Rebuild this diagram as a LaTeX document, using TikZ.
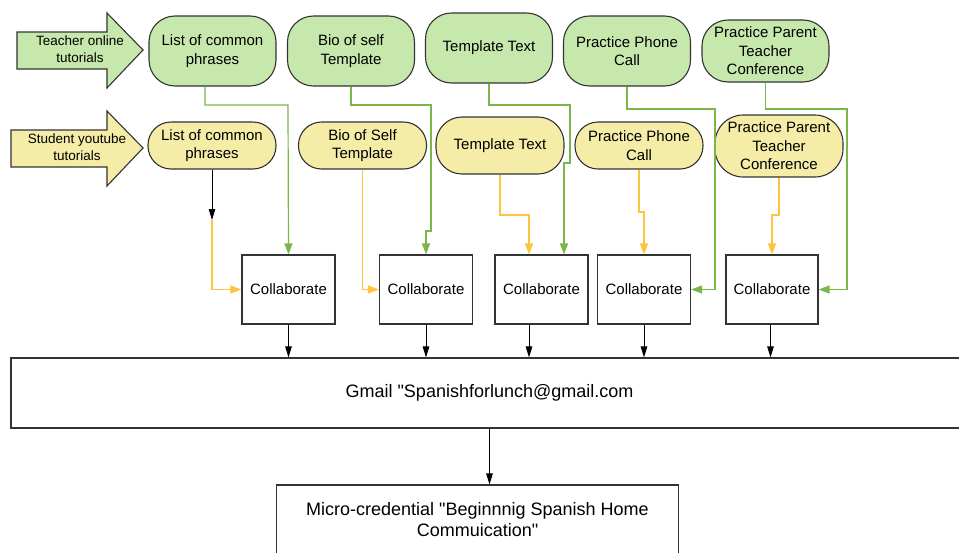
\documentclass[tikz,border=0pt]{standalone}
\usepackage{fontspec}
\setmainfont{Liberation Sans}[Ligatures=TeXOff]
\usetikzlibrary{arrows.meta}
\definecolor{gfill}{HTML}{C7E8AC}
\definecolor{yfill}{HTML}{F4ECA7}
\definecolor{gline}{HTML}{7AB648}
\definecolor{oline}{HTML}{FFC43D}
\definecolor{edge}{HTML}{333333}
\tikzset{
  greenbox/.style={draw=edge,fill=gfill,line width=1.1pt,rounded corners=26pt,minimum width=127pt,minimum height=70pt,align=center,font=\fontsize{15}{18.5}\selectfont},
  yellowbox/.style={draw=edge,fill=yfill,line width=1.1pt,rounded corners=23pt,minimum width=128pt,minimum height=47pt,align=center,font=\fontsize{15}{18.5}\selectfont},
  collab/.style={draw=edge,line width=1.1pt,minimum width=93pt,minimum height=69pt,font=\fontsize{15}{18}\selectfont},
  bigbox/.style={draw=edge,line width=1.1pt,minimum height=70pt,align=center,font=\fontsize{18}{21}\selectfont},
  arrowtext/.style={align=center,font=\fontsize{13.5}{17}\selectfont},
  gconn/.style={draw=gline,line width=1.2pt,-{Triangle[length=11pt,width=8pt]}},
  oconn/.style={draw=oline,line width=1.2pt,-{Triangle[length=11pt,width=8pt]}},
  bconn/.style={draw=black,line width=1pt,-{Triangle[length=11pt,width=6.5pt]}}
}
\begin{document}
\begin{tikzpicture}[x=1pt,y=-1pt]
    \useasboundingbox (0,0) rectangle (959,552);
    % big arrows on the left
    \draw[draw=edge,fill=gfill,line width=1.1pt] (17,32) -- (107,32) -- (107,13) -- (143,50) -- (107,88) -- (107,69) -- (17,69) -- cycle;
    \node[arrowtext] (teacher) at (80,49) {Teacher online\\tutorials};
    \draw[draw=edge,fill=yfill,line width=1.1pt] (11,130) -- (107,130) -- (107,111) -- (143,148) -- (107,186) -- (107,167) -- (11,167) -- cycle;
    \node[arrowtext] (student) at (77,147) {Student youtube\\tutorials};
    % teacher row
    \node[greenbox] (g1) at (212.5,51) {List of common\\phrases};
    \node[greenbox] (g2) at (351,51) {Bio of self\\Template};
    \node[greenbox] (g3) at (489,48) {Template Text};
    \node[greenbox] (g4) at (627,51) {Practice Phone\\Call};
    \node[greenbox,minimum height=62pt] (g5) at (765.5,51) {Practice Parent\\Teacher\\Conference};
    % student row
    \node[yellowbox] (y1) at (212,145.5) {List of common\\phrases};
    \node[yellowbox] (y2) at (362.5,145.5) {Bio of Self\\Template};
    \node[yellowbox,minimum height=57pt,rounded corners=26pt] (y3) at (500,145.5) {Template Text};
    \node[yellowbox] (y4) at (639,145.5) {Practice Phone\\Call};
    \node[yellowbox,minimum height=62pt,rounded corners=28pt] (y5) at (779,146) {Practice Parent\\Teacher\\Conference};
    % collaborate boxes
    \node[collab] (c1) at (288.5,289.5) {Collaborate};
    \node[collab] (c2) at (426,289.5) {Collaborate};
    \node[collab] (c3) at (541.5,289.5) {Collaborate};
    \node[collab] (c4) at (644,289.5) {Collaborate};
    \node[collab,minimum width=92pt] (c5) at (772,289.5) {Collaborate};
    \node[bigbox,minimum width=957pt] (gmail) at (489.5,393) {Gmail "Spanishforlunch@gmail.com};
    \node[bigbox,minimum width=402pt] (micro) at (477.5,520) {Micro-credential "Beginnnig Spanish Home\\Commuication"};
    % green connectors
    \draw[gconn] ([xshift=-7.5pt]g1.south) |- (288,105) -- (c1.north);
    \draw[gconn] (g2.south) |- (431,105) -- (431,231) -| (c2.north);
    \draw[gconn] (g3.south) |- (570,105) -- (570,163) -| ([xshift=22.5pt]c3.north);
    \draw[gconn] (g4.south) |- (715,109) |- (c4.east);
    \draw[gconn] (g5.south) |- (847,109) |- (c5.east);
    % yellow connectors
    \coordinate (y1end) at (212,220);
    \draw[bconn] (y1.south) -- (y1end);
    \draw[oconn] (y1end) |- (c1.west);
    \draw[oconn] (y2.south) |- (c2.west);
    \draw[oconn] (y3.south) |- (529,215) -- ([xshift=-12.5pt]c3.north);
    \draw[oconn] (y4.south) |- (644,212) -- (c4.north);
    \draw[oconn] (y5.south) |- (772,215) -- (c5.north);
    % into gmail and out
    \foreach \c/\s in {c1/0,c2/0,c3/-12.5,c4/0,c5/-1.5}
        \draw[bconn] ([xshift=\s pt]\c.south) -- ([xshift=\s pt]\c.south |- gmail.north);
    \draw[bconn] (gmail.south) -- (gmail.south |- micro.north);
\end{tikzpicture}
\end{document}
